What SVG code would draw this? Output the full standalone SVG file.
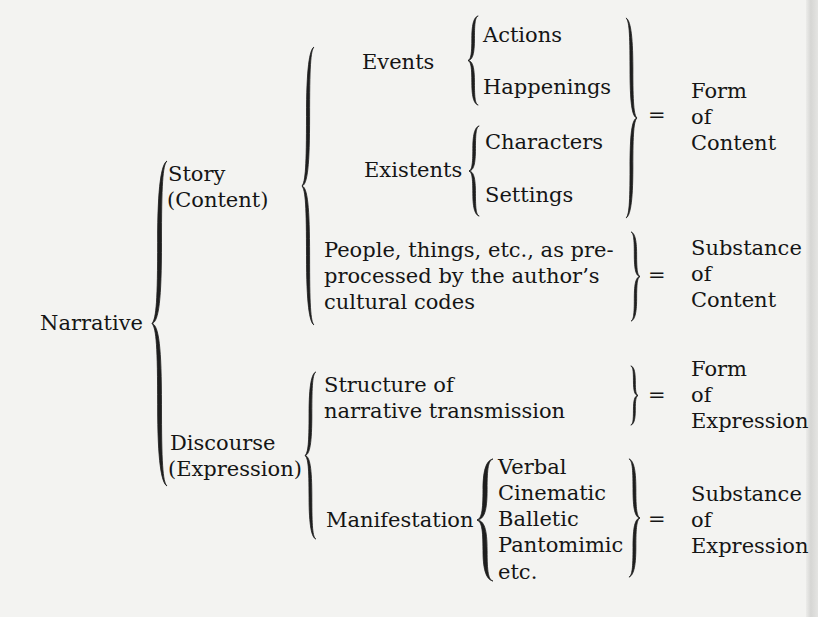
<svg xmlns="http://www.w3.org/2000/svg" xmlns:xlink="http://www.w3.org/1999/xlink" width="818" height="617" viewBox="0 0 818 617">
<style>
text{font-family:"DejaVu Serif","Liberation Serif",serif;font-size:21px;fill:#151515}
.br{fill:#1e1e1e;stroke:#1e1e1e;stroke-width:0.8;vector-effect:non-scaling-stroke;stroke-linejoin:round}
</style>
<defs>
<linearGradient id="edge" x1="0" y1="0" x2="1" y2="0">
<stop offset="0" stop-color="#ececea"/>
<stop offset="0.4" stop-color="#d6d6d4"/>
<stop offset="1" stop-color="#e4e4e2"/>
</linearGradient>
<path id="lb" class="br" d="M12,0 C7.5,1 4.5,7.5 4.5,25 C4.5,42.5 3.5,48.5 0,50 C3.5,51.5 4.5,57.5 4.5,75 C4.5,92.5 7.5,99 12,100 C8.5,98.8 7.6,92.5 7.6,75 C7.6,57.5 5.5,50.5 0,50 C5.5,49.5 7.6,42.5 7.6,25 C7.6,7.5 8.5,1.2 12,0 Z"/>
</defs>
<rect width="818" height="617" fill="#f3f3f1"/>
<rect x="806" y="0" width="12" height="617" fill="url(#edge)"/>

<g id="connectors">
<use xlink:href="#lb" href="#lb" transform="translate(152,161) scale(1.25,3.25)"/>
<use xlink:href="#lb" href="#lb" transform="translate(302,47) scale(1,2.78)"/>
<use xlink:href="#lb" href="#lb" transform="translate(305,372) scale(0.9,1.67)"/>
<use xlink:href="#lb" href="#lb" transform="translate(468,16) scale(0.85,0.89)"/>
<use xlink:href="#lb" href="#lb" transform="translate(469,126) scale(0.85,0.9)"/>
<use xlink:href="#lb" href="#lb" transform="translate(477,459) scale(1.33,1.22)"/>
<use xlink:href="#lb" href="#lb" transform="translate(637,18) scale(-0.92,2.0)"/>
<use xlink:href="#lb" href="#lb" transform="translate(640,232) scale(-0.75,0.89)"/>
<use xlink:href="#lb" href="#lb" transform="translate(638,366) scale(-0.6,0.59)"/>
<use xlink:href="#lb" href="#lb" transform="translate(640,459) scale(-0.92,1.18)"/>
</g>

<g id="narrative"><text x="40" y="330">Narrative</text></g>
<g id="story"><text x="168" y="181">Story</text><text x="167" y="207">(Content)</text></g>
<g id="discourse"><text x="170" y="450">Discourse</text><text x="168" y="476">(Expression)</text></g>

<g id="events"><text x="362" y="69">Events</text></g>
<g id="actions"><text x="483" y="42">Actions</text></g>
<g id="happenings"><text x="483" y="94">Happenings</text></g>
<g id="existents"><text x="364" y="177">Existents</text></g>
<g id="characters"><text x="485" y="149">Characters</text></g>
<g id="settings"><text x="485" y="202">Settings</text></g>

<g id="people"><text x="324" y="257">People, things, etc., as pre-</text><text x="324" y="283">processed by the author’s</text><text x="324" y="309">cultural codes</text></g>

<g id="structure"><text x="324" y="392">Structure of</text><text x="324" y="418">narrative transmission</text></g>

<g id="manifestation"><text x="326" y="527">Manifestation</text></g>
<g id="media"><text x="498" y="474">Verbal</text><text x="498" y="500">Cinematic</text><text x="498" y="526">Balletic</text><text x="498" y="552">Pantomimic</text><text x="498" y="579">etc.</text></g>

<g id="form-content"><text x="648" y="122">=</text><text x="691" y="98">Form</text><text x="691" y="124">of</text><text x="691" y="150">Content</text></g>
<g id="substance-content"><text x="648" y="282">=</text><text x="691" y="255">Substance</text><text x="691" y="281">of</text><text x="691" y="307">Content</text></g>
<g id="form-expression"><text x="648" y="402">=</text><text x="691" y="376">Form</text><text x="691" y="402">of</text><text x="691" y="428">Expression</text></g>
<g id="substance-expression"><text x="648" y="526">=</text><text x="691" y="501">Substance</text><text x="691" y="527">of</text><text x="691" y="553">Expression</text></g>
</svg>
